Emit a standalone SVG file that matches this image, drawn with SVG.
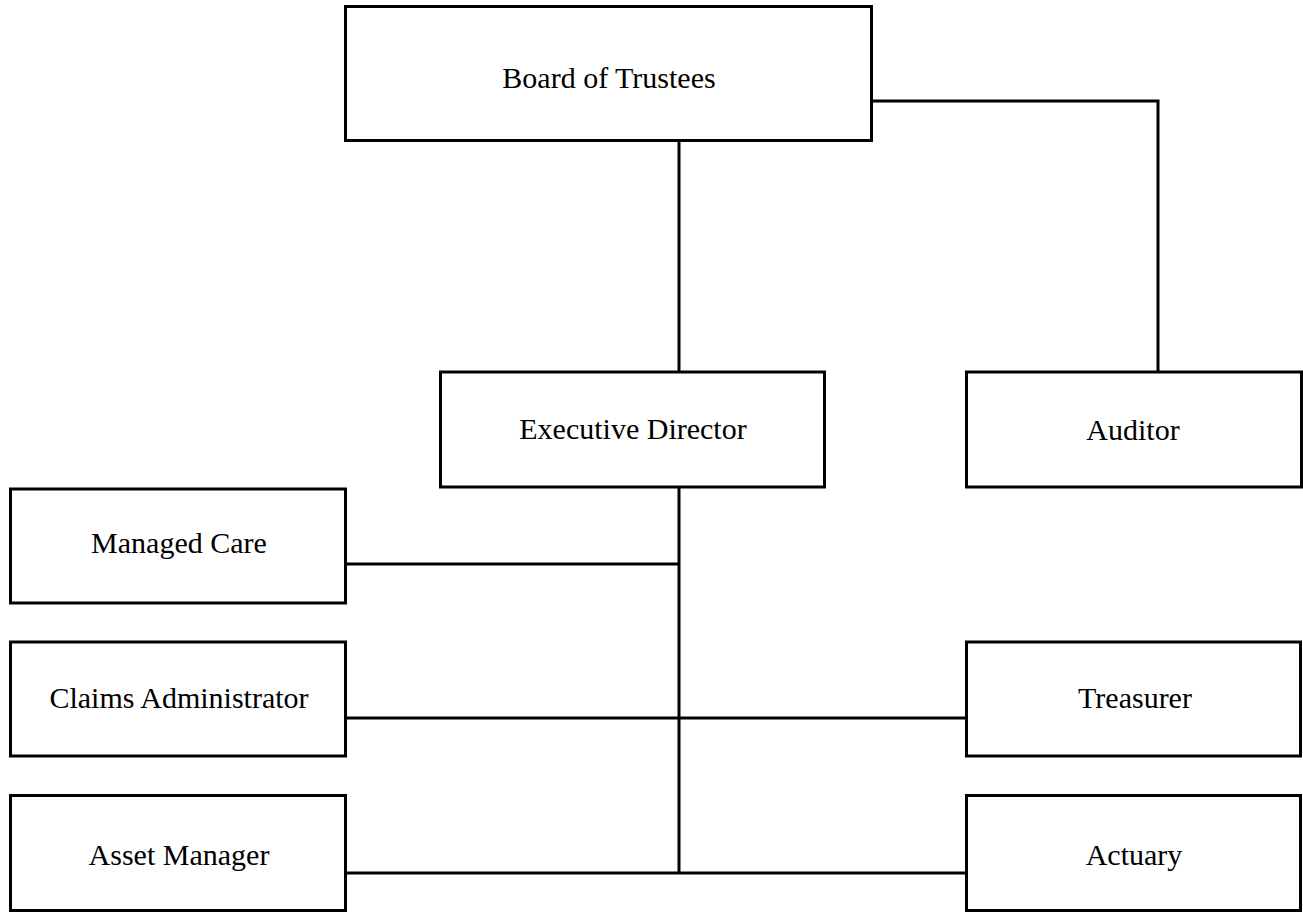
<svg xmlns="http://www.w3.org/2000/svg" width="1303" height="913" viewBox="0 0 1303 913">
<style>
.box{fill:#fff;stroke:#000;stroke-width:3}
.lbl{font-family:"Liberation Serif","Times New Roman",serif;font-size:30px;fill:#000;text-anchor:middle}
.conn{fill:none;stroke:#000;stroke-width:3}
</style>
<rect width="1303" height="913" fill="#fff"/>
<g id="connectors">
<path class="conn" d="M679,141 V372"/>
<path class="conn" d="M871,101 H1158 V372"/>
<path class="conn" d="M679,487 V873"/>
<path class="conn" d="M346,564 H679"/>
<path class="conn" d="M346,718 H966"/>
<path class="conn" d="M346,873 H966"/>
</g>
<g id="board"><rect class="box" x="345.5" y="6.5" width="526" height="134"/><text class="lbl" x="609" y="88">Board of Trustees</text></g>
<g id="exec"><rect class="box" x="440.5" y="372" width="384" height="115"/><text class="lbl" x="633" y="439">Executive Director</text></g>
<g id="auditor"><rect class="box" x="966.5" y="372" width="335" height="115"/><text class="lbl" x="1133" y="440">Auditor</text></g>
<g id="managed"><rect class="box" x="10.5" y="489" width="335" height="114"/><text class="lbl" x="179" y="553">Managed Care</text></g>
<g id="claims"><rect class="box" x="10.5" y="642" width="335" height="114"/><text class="lbl" x="179" y="708">Claims Administrator</text></g>
<g id="treasurer"><rect class="box" x="966.5" y="642" width="334" height="114"/><text class="lbl" x="1135" y="708">Treasurer</text></g>
<g id="asset"><rect class="box" x="10.5" y="795.5" width="335" height="115"/><text class="lbl" x="179" y="865">Asset Manager</text></g>
<g id="actuary"><rect class="box" x="966.5" y="795.5" width="334" height="115"/><text class="lbl" x="1134" y="865">Actuary</text></g>
</svg>
